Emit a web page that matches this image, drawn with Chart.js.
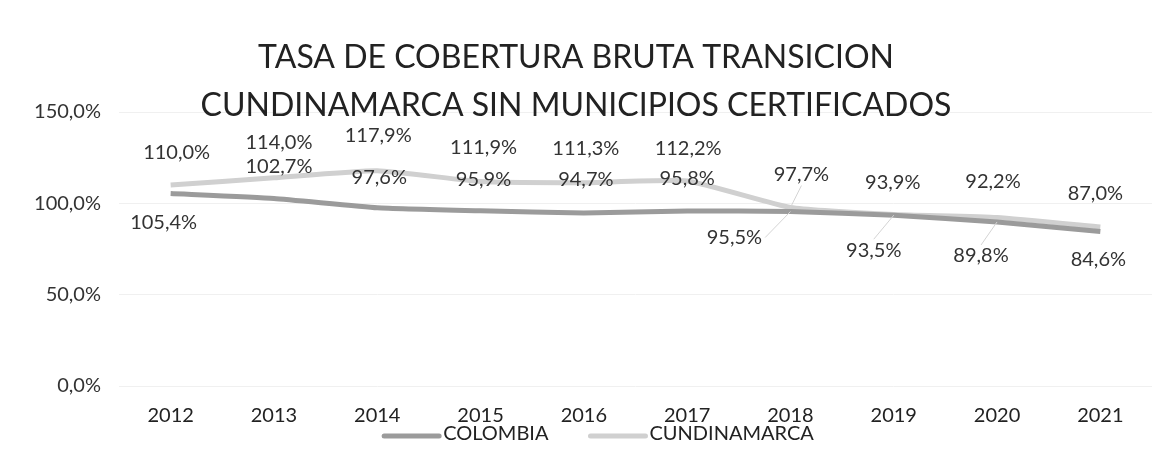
<!DOCTYPE html>
<html>
<head>
<meta charset="utf-8">
<script src="https://cdn.jsdelivr.net/npm/chart.js@4/dist/chart.umd.min.js"></script>
<style>
  html, body { margin: 0; padding: 0; background: #fff; }
  #wrap { width: 1170px; height: 462px; }
</style>
</head>
<body>
<div id="wrap"><canvas id="chart"></canvas></div>
<script>
var years = ['2012', '2013', '2014', '2015', '2016', '2017', '2018', '2019', '2020', '2021'];
var colombia = [105.4, 102.7, 97.6, 95.9, 94.7, 95.8, 95.5, 93.5, 89.8, 84.6];
var cundinamarca = [110.0, 114.0, 117.9, 111.9, 111.3, 112.2, 97.7, 93.9, 92.2, 87.0];
var yTicks = [0, 50, 100, 150];

// desplazamiento de las etiquetas (px) respecto al punto
var labelOffsets = [
    { dx: [-7, 5, 2, 3, 2, 0, -56, -20, -16, -2], dy: [29, -32, -30, -31, -33, -32, 26, 35, 34, 28] },
    { dx: [6, 5, 1, 3, 2, 1, 11, -1, -4, -5], dy: [-33, -35, -35, -34, -34, -33, -33, -32, -36, -34] }
];

var FONT = 'Lato, "Open Sans", sans-serif';

function pct(v) {
    return v.toFixed(1).replace('.', ',') + '%';
}

var labelPlugin = {
    id: 'pointLabels',
    afterDatasetsDraw: function (chart) {
        var ctx = chart.ctx;
        ctx.save();
        ctx.font = '20px ' + FONT;
        ctx.textAlign = 'center';
        ctx.textBaseline = 'middle';
        chart.data.datasets.forEach(function (ds, i) {
            var meta = chart.getDatasetMeta(i);
            meta.data.forEach(function (pt, j) {
                var off = labelOffsets[i];
                var lx = pt.x + off.dx[j], ly = pt.y + off.dy[j];
                var text = pct(ds.data[j]);
                var w = ctx.measureText(text).width;
                if (Math.abs(off.dx[j]) >= 10) {
                    var sx, sy;
                    if (Math.abs(off.dx[j]) > w / 2) {
                        sx = lx + (off.dx[j] < 0 ? w / 2 + 3 : -w / 2 - 3);
                        sy = ly;
                    } else {
                        sx = lx;
                        sy = ly + (off.dy[j] < 0 ? 11 : -11);
                    }
                    ctx.strokeStyle = '#d4d4d4';
                    ctx.lineWidth = 1;
                    ctx.beginPath();
                    ctx.moveTo(sx, sy);
                    ctx.lineTo(pt.x, pt.y);
                    ctx.stroke();
                }
                ctx.fillStyle = '#333';
                ctx.fillText(text, lx, ly);
            });
        });
        ctx.restore();
    }
};

var legendPlugin = {
    id: 'bottomLegend',
    afterDraw: function (chart) {
        var ctx = chart.ctx;
        ctx.save();
        ctx.font = '20px ' + FONT;
        ctx.textBaseline = 'middle';
        var y = 434, lineW = 57, gap = 4, itemGap = 40;
        var items = chart.data.datasets.map(function (ds) {
            return { text: ds.label, color: ds.borderColor, w: lineW + gap + ctx.measureText(ds.label).width };
        });
        var total = items.reduce(function (s, it) { return s + it.w; }, 0) + itemGap * (items.length - 1);
        var x = 598 - total / 2;
        items.forEach(function (it) {
            ctx.strokeStyle = it.color;
            ctx.lineWidth = 5;
            ctx.lineCap = 'round';
            ctx.beginPath();
            ctx.moveTo(x + 2, y + 2);
            ctx.lineTo(x + lineW, y + 2);
            ctx.stroke();
            ctx.fillStyle = '#222';
            ctx.textAlign = 'left';
            ctx.fillText(it.text, x + lineW + gap, y);
            x += it.w + itemGap;
        });
        ctx.restore();
    }
};

new Chart(document.getElementById('chart').getContext('2d'), {
    type: 'line',
    data: {
        labels: years,
        datasets: [{
            label: 'COLOMBIA',
            data: colombia,
            borderColor: '#9b9b9b',
            backgroundColor: '#9b9b9b',
            borderWidth: 5,
            pointRadius: 0,
            tension: 0.15
        }, {
            label: 'CUNDINAMARCA',
            data: cundinamarca,
            borderColor: '#d0d0d0',
            backgroundColor: '#d0d0d0',
            borderWidth: 5,
            pointRadius: 0,
            tension: 0.15
        }]
    },
    options: {
        responsive: true,
        maintainAspectRatio: false,
        animation: false,
        layout: { padding: { top: 0, bottom: 16, left: 0, right: 18 } },
        plugins: {
            legend: { display: false },
            tooltip: { enabled: false },
            title: {
                display: true,
                text: ['TASA DE COBERTURA BRUTA TRANSICION', 'CUNDINAMARCA SIN MUNICIPIOS CERTIFICADOS'],
                color: '#222',
                font: { family: FONT, size: 32, weight: 'normal', lineHeight: 1.5 },
                padding: { top: 34, bottom: -18 }
            }
        },
        scales: {
            x: {
                offset: true,
                grid: { display: false, drawTicks: false },
                border: { display: false },
                ticks: { color: '#222', padding: 18, font: { family: FONT, size: 20 } }
            },
            y: {
                min: 0,
                max: 150,
                afterBuildTicks: function (s) { s.ticks = yTicks.map(function (v) { return { value: v }; }); },
                grid: { color: '#f0f0f0', drawTicks: false },
                border: { display: false },
                ticks: {
                    color: '#333',
                    padding: 18,
                    font: { family: FONT, size: 20 },
                    callback: function (v) { return pct(v); }
                },
                afterFit: function (s) { s.width = 119; }
            }
        }
    },
    plugins: [labelPlugin, legendPlugin]
});
</script>
</body>
</html>
